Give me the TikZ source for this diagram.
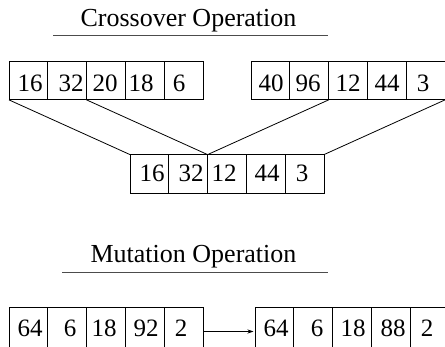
\documentclass[tikz,border=0pt]{standalone}
\usepackage{fontspec}
\setmainfont{Liberation Serif}
\usetikzlibrary{arrows.meta}
\begin{document}
\begin{tikzpicture}[x=1pt,y=-1pt,
  cellbox/.style={draw, line width=0.9pt, minimum width=38.8pt, minimum height=38.8pt, inner sep=0pt, outer sep=0pt},
  tallbox/.style={cellbox, minimum height=44pt},
  digit/.style={anchor=base, inner sep=0pt, font=\fontsize{25}{25}\selectfont},
  heading/.style={anchor=base, inner sep=0pt, font=\fontsize{26}{26}\selectfont},
  underline/.style={line width=0.9pt, draw=black!70},
  link/.style={line width=0.8pt}]
\useasboundingbox (0,0) rectangle (445,347);

% --- crossover: two parents and the child
\foreach \i in {1,...,5} {
  \node[cellbox] (a\i) at ({9+19.4+38.8*(\i-1)},80.5) {};
  \node[cellbox] (b\i) at ({251+19.4+38.8*(\i-1)},80.5) {};
  \node[cellbox] (c\i) at ({130+19.4+38.8*(\i-1)},174) {};
}
\foreach \x/\t [count=\i] in {30/16, 71/32, 105/20, 141/18, 179/6}
  \node[digit] (ta\i) at (\x,92) {\t};
\foreach \x/\t [count=\i] in {271/40, 308/96, 348/12, 387/44, 423/3}
  \node[digit] (tb\i) at (\x,92) {\t};
\foreach \x/\t [count=\i] in {152/16, 191/32, 224/12, 267/44, 302/3}
  \node[digit] (tc\i) at (\x,182) {\t};

\draw[link] (a1.south west) -- (c1.north west);
\draw[link] (a3.south west) -- (c3.north west);
\draw[link] (b3.south west) -- (c3.north west);
\draw[link] (b5.south east) -- (c5.north east);

\node[heading] (xtitle) at (188.5,27) {Crossover Operation};
\coordinate (xl) at (53,35);
\coordinate (xr) at (328,35);
\draw[underline] (xl) -- (xr);

% --- mutation: before and after (rows run past the lower edge)
\node[heading] (mtitle) at (193.5,263) {Mutation Operation};
\coordinate (ml) at (62,272);
\coordinate (mr) at (328,272);
\draw[underline] (ml) -- (mr);

\foreach \i in {1,...,5} {
  \node[tallbox] (m\i) at ({9+19.4+38.8*(\i-1)},329) {};
  \node[tallbox] (n\i) at ({255+19.4+38.8*(\i-1)},329) {};
}
\foreach \x/\t [count=\i] in {30/64, 70/6, 104/18, 146/92, 181/2}
  \node[digit] (tm\i) at (\x,337) {\t};
\foreach \x/\t [count=\i] in {276/64, 317/6, 353/18, 393/88, 427/2}
  \node[digit] (tn\i) at (\x,337) {\t};

\coordinate (ms) at ([yshift=-2.5pt]m5.east);
\coordinate (ne) at ([xshift=-1.5pt,yshift=-2.5pt]n1.west);
\draw[link, -{Stealth[length=6pt,width=4pt]}] (ms) -- (ne);
\end{tikzpicture}
\end{document}
